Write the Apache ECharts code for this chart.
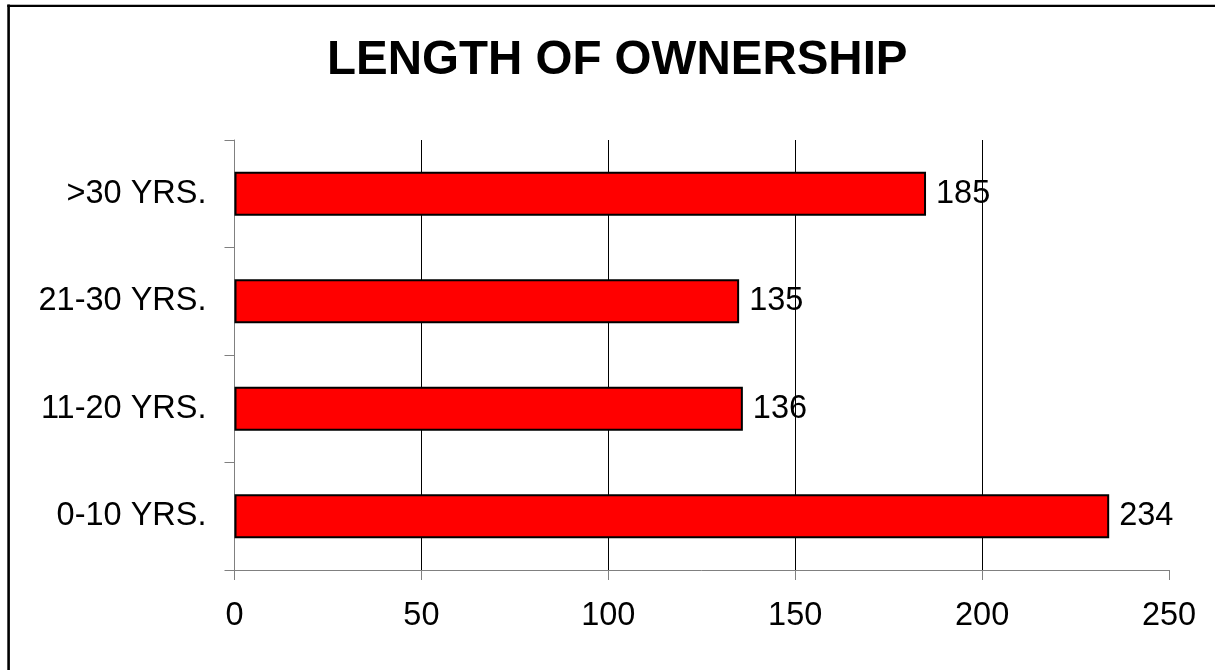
<!DOCTYPE html>
<html>
<head>
<meta charset="utf-8">
<script src="https://cdn.jsdelivr.net/npm/echarts@6/dist/echarts.min.js"></script>
<style>
html,body{margin:0;padding:0;background:#fff;}
#chart{width:1215px;height:670px;}
</style>
</head>
<body>
<div id="chart"></div>
<script>
const titleText = 'LENGTH OF OWNERSHIP';
const categories = ['0-10 YRS.', '11-20 YRS.', '21-30 YRS.', '>30 YRS.'];
const values = [234, 136, 135, 185];
const xMin = 0, xMax = 250, xStep = 50;

const FONT = '"Liberation Sans", Arial, sans-serif';
const chart = echarts.init(document.getElementById('chart'), null, {renderer: 'canvas'});
chart.setOption({
  animation: false,
  backgroundColor: '#fff',
  title: {
    text: titleText,
    left: 322,
    top: 32,
    textStyle: {fontFamily: FONT, fontWeight: 'bold', fontSize: 47.5, color: '#000'}
  },
  graphic: [
    {type: 'line', shape: {x1: 8.6, y1: 4.6, x2: 8.6, y2: 700}, style: {stroke: '#000', lineWidth: 2.6}, silent: true},
    {type: 'line', shape: {x1: 7.3, y1: 5.8, x2: 1300, y2: 5.8}, style: {stroke: '#000', lineWidth: 2.2}, silent: true}
  ],
  grid: {left: 234.5, right: 46, top: 140, bottom: 100, containLabel: false},
  xAxis: {
    type: 'value',
    min: xMin, max: xMax, interval: xStep,
    axisLine: {show: true, lineStyle: {color: '#808080', width: 1}},
    axisTick: {show: true, length: 10, lineStyle: {color: '#808080', width: 1}},
    axisLabel: {fontFamily: FONT, fontSize: 32.5, color: '#000', margin: 30},
    splitLine: {show: true, showMinLine: false, showMaxLine: false, lineStyle: {color: '#000', width: 1}}
  },
  yAxis: {
    type: 'category',
    data: categories,
    axisLine: {show: true, lineStyle: {color: '#808080', width: 1}},
    axisTick: {show: true, length: 10, lineStyle: {color: '#808080', width: 1}},
    axisLabel: {fontFamily: FONT, fontSize: 32.5, color: '#000', margin: 28},
    splitLine: {show: false}
  },
  series: [{
    type: 'bar',
    data: values,
    barWidth: 44,
    itemStyle: {color: '#ff0000', borderColor: '#000', borderWidth: 2},
    label: {show: true, position: 'right', distance: 10, fontFamily: FONT, fontSize: 32.5, color: '#000'}
  }]
});
</script>
</body>
</html>
